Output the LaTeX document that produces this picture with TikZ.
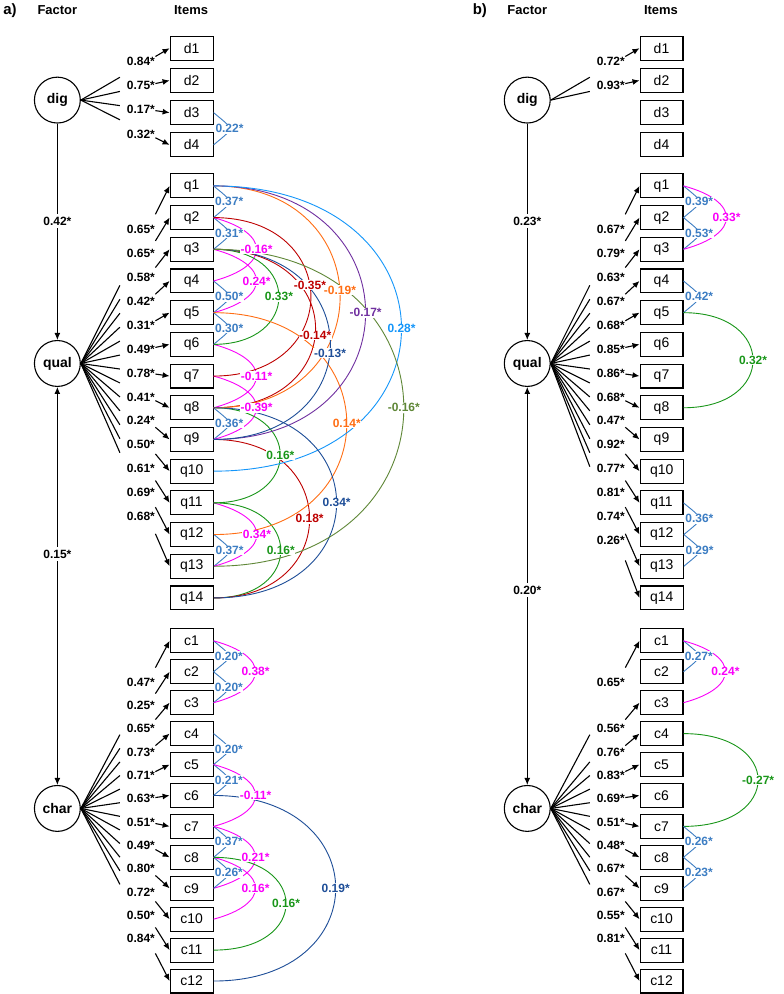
\documentclass[tikz,border=0pt]{standalone}
\usepackage{fontspec}
\setmainfont{Liberation Sans}
\usetikzlibrary{arrows.meta, positioning, calc}

\definecolor{covblue}{RGB}{60,125,195}
\definecolor{covmag}{RGB}{250,0,250}
\definecolor{covgreen}{RGB}{25,150,25}
\definecolor{covred}{RGB}{190,0,0}
\definecolor{covorange}{RGB}{255,110,20}
\definecolor{covpurple}{RGB}{112,48,160}
\definecolor{covnavy}{RGB}{30,78,152}
\definecolor{covsky}{RGB}{20,150,250}
\definecolor{covolive}{RGB}{95,135,55}

% factor/item/estimate
\newcommand{\loadlist}{%
  adig/ad1/0.84, adig/ad2/0.75, adig/ad3/0.17, adig/ad4/0.32,
  aqual/aq1/0.65, aqual/aq2/0.65, aqual/aq3/0.58, aqual/aq4/0.42,
  aqual/aq5/0.31, aqual/aq6/0.49, aqual/aq7/0.78, aqual/aq8/0.41,
  aqual/aq9/0.24, aqual/aq10/0.50, aqual/aq11/0.61, aqual/aq12/0.69,
  aqual/aq13/0.68,
  achar/ac1/0.47, achar/ac2/0.25, achar/ac3/0.65, achar/ac4/0.73,
  achar/ac5/0.71, achar/ac6/0.63, achar/ac7/0.51, achar/ac8/0.49,
  achar/ac9/0.80, achar/ac10/0.72, achar/ac11/0.50, achar/ac12/0.84,
  bdig/bd1/0.72, bdig/bd2/0.93,
  bqual/bq1/0.67, bqual/bq2/0.79, bqual/bq3/0.63, bqual/bq4/0.67,
  bqual/bq5/0.68, bqual/bq6/0.85, bqual/bq7/0.86, bqual/bq8/0.68,
  bqual/bq9/0.47, bqual/bq10/0.92, bqual/bq11/0.77, bqual/bq12/0.81,
  bqual/bq13/0.74, bqual/bq14/0.26,
  bchar/bc1/0.65, bchar/bc3/0.56, bchar/bc4/0.76, bchar/bc5/0.83,
  bchar/bc6/0.69, bchar/bc7/0.51, bchar/bc8/0.48, bchar/bc9/0.67,
  bchar/bc10/0.67, bchar/bc11/0.55, bchar/bc12/0.81}

% from/to/colour/angle/looseness/label pos/estimate
\newcommand{\covlist}{%
  ad3/ad4/covblue/40/2.2/0.5/0.22,
  aq1/aq2/covblue/40/2.2/0.5/0.37,
  aq2/aq3/covblue/40/2.2/0.5/0.31,
  aq4/aq5/covblue/40/2.2/0.5/0.50,
  aq5/aq6/covblue/40/2.2/0.5/0.30,
  aq8/aq9/covblue/40/2.2/0.5/0.36,
  aq12/aq13/covblue/40/2.2/0.5/0.37,
  aq2/aq4/covmag/15/2.4/0.5/-0.16,
  aq3/aq5/covmag/15/2.4/0.5/0.24,
  aq6/aq8/covmag/15/2.4/0.5/-0.11,
  aq7/aq9/covmag/15/2.4/0.5/-0.39,
  aq11/aq13/covmag/15/2.4/0.5/0.34,
  aq3/aq6/covgreen/0/2.35/0.5/0.33,
  aq8/aq11/covgreen/0/2.4/0.5/0.16,
  aq11/aq14/covgreen/0/2.4/0.5/0.16,
  aq2/aq7/covred/0/2.1/0.45/-0.35,
  aq3/aq8/covred/0/2.2/0.53/-0.14,
  aq9/aq14/covred/0/2.06/0.5/0.18,
  aq1/aq8/covorange/0/1.95/0.48/-0.19,
  aq5/aq12/covorange/0/2.05/0.5/0.14,
  aq1/aq9/covpurple/0/2.05/0.5/-0.17,
  aq1/aq10/covsky/0/2.25/0.5/0.28,
  aq3/aq9/covnavy/0/2.1/0.53/-0.13,
  aq8/aq14/covnavy/0/2.2/0.5/0.34,
  aq3/aq13/covolive/0/2.05/0.5/-0.16,
  ac1/ac2/covblue/40/2.2/0.5/0.20,
  ac2/ac3/covblue/40/2.2/0.5/0.20,
  ac1/ac3/covmag/15/2.4/0.5/0.38,
  ac4/ac5/covblue/40/2.2/0.5/0.20,
  ac5/ac6/covblue/40/2.2/0.5/0.21,
  ac5/ac7/covmag/15/2.4/0.5/-0.11,
  ac6/ac12/covnavy/0/2.25/0.5/0.19,
  ac7/ac8/covblue/40/2.2/0.5/0.37,
  ac7/ac9/covmag/15/2.4/0.5/0.21,
  ac8/ac9/covblue/40/2.2/0.5/0.26,
  ac8/ac10/covmag/15/2.4/0.5/0.16,
  ac8/ac11/covgreen/0/2.67/0.5/0.16,
  bq1/bq2/covblue/40/2.2/0.5/0.39,
  bq2/bq3/covblue/40/2.2/0.5/0.53,
  bq1/bq3/covmag/15/2.4/0.5/0.33,
  bq4/bq5/covblue/40/2.2/0.5/0.42,
  bq5/bq8/covgreen/0/2.5/0.5/0.32,
  bq11/bq12/covblue/40/2.2/0.5/0.36,
  bq12/bq13/covblue/40/2.2/0.5/0.29,
  bc1/bc2/covblue/40/2.2/0.5/0.27,
  bc1/bc3/covmag/15/2.4/0.5/0.24,
  bc4/bc7/covgreen/0/2.75/0.5/-0.27,
  bc7/bc8/covblue/40/2.2/0.5/0.26,
  bc8/bc9/covblue/40/2.2/0.5/0.23}

\begin{document}
\begin{tikzpicture}[
  x=1pt, y=1pt,
  factor/.style={circle, draw, line width=1.1pt, minimum size=46pt, inner sep=0pt,
    font=\fontsize{14}{16}\selectfont\bfseries},
  item/.style={draw, line width=1.1pt, anchor=west, minimum width=43pt,
    minimum height=24pt, inner xsep=10pt, inner ysep=0pt, font=\fontsize{14}{16}\selectfont},
  head/.style={font=\fontsize{13}{15}\selectfont\bfseries},
  panel/.style={font=\fontsize{15}{17}\selectfont\bfseries},
  fanline/.style={line width=1.1pt},
  fanarrow/.style={line width=1.1pt, -{Latex[length=7pt, width=6pt]}},
  loadlab/.style={font=\fontsize{12}{14}\selectfont\bfseries, inner sep=0pt, xshift=-7pt},
  vline/.style={line width=1.1pt},
  vlab/.style={fill=white, inner sep=3pt, font=\fontsize{12}{14}\selectfont\bfseries},
  corr/.style={line width=0.9pt},
  corrlab/.style={fill=white, inner sep=0.6pt, font=\fontsize{12}{14}\selectfont\bfseries}
]
  \fill[white] (0,0) rectangle (775,-994);

  % both panels have the same layout, b sits 471 to the right
  \foreach \pn/\dx in {a/0, b/471} {
    \node[panel] (\pn tag) at ({7+\dx}, -8) {\pn)};
    \node[head] (\pn fac) at ({54.5+\dx}, -8) {Factor};
    \node[head] (\pn its) at ({188.5+\dx}, -8) {Items};
    \node[factor] (\pn dig) at ({54.5+\dx}, -98) {dig};
    \node[factor] (\pn qual) at ({54.5+\dx}, -362) {qual};
    \node[factor] (\pn char) at ({54.5+\dx}, -808) {char};
    \foreach \i in {1,...,4}
      \node[item] (\pn d\i) at ({167+\dx}, {-46-32.3*(\i-1)}) {d\i};
    \foreach \i in {1,...,14}
      \node[item] (\pn q\i) at ({167+\dx}, {-184-31.77*(\i-1)}) {q\i};
    \foreach \i in {1,...,12}
      \node[item] (\pn c\i) at ({167+\dx}, {-640-31.0*(\i-1)}) {c\i};
  }

  % loadings, broken where the estimate sits
  \foreach \f/\itm/\est in \loadlist {
    \draw[fanline] (\f.east) -- ($(\f.east)!0.44!(\itm.west)$);
    \draw[fanarrow] ($(\f.east)!0.84!(\itm.west)$) -- (\itm.west);
    \node[loadlab] at ($(\f.east)!0.755!(\itm.west)$) {\est*};
  }

  % factor correlations
  \draw[vline, -{Latex[length=7pt, width=6pt]}] (adig) -- node[vlab, pos=0.45] {0.42*} (aqual);
  \draw[vline, {Latex[length=7pt, width=6pt]}-{Latex[length=7pt, width=6pt]}] (aqual) -- node[vlab, pos=0.42] {0.15*} (achar);
  \draw[vline, -{Latex[length=7pt, width=6pt]}] (bdig) -- node[vlab, pos=0.45] {0.23*} (bqual);
  \draw[vline, {Latex[length=7pt, width=6pt]}-{Latex[length=7pt, width=6pt]}] (bqual) -- node[vlab, pos=0.51] {0.20*} (bchar);

  % residual covariances: arcs first, estimates on top
  \foreach \ca/\cb/\col/\ang/\lo/\ps/\est in \covlist
    \draw[corr, \col] (\ca.east) to[out=-\ang, in=\ang, looseness=\lo] coordinate[pos=\ps] (m\ca\cb) (\cb.east);
  \foreach \ca/\cb/\col/\ang/\lo/\ps/\est in \covlist
    \node[corrlab, text=\col] at (m\ca\cb) {\est*};
\end{tikzpicture}
\end{document}
